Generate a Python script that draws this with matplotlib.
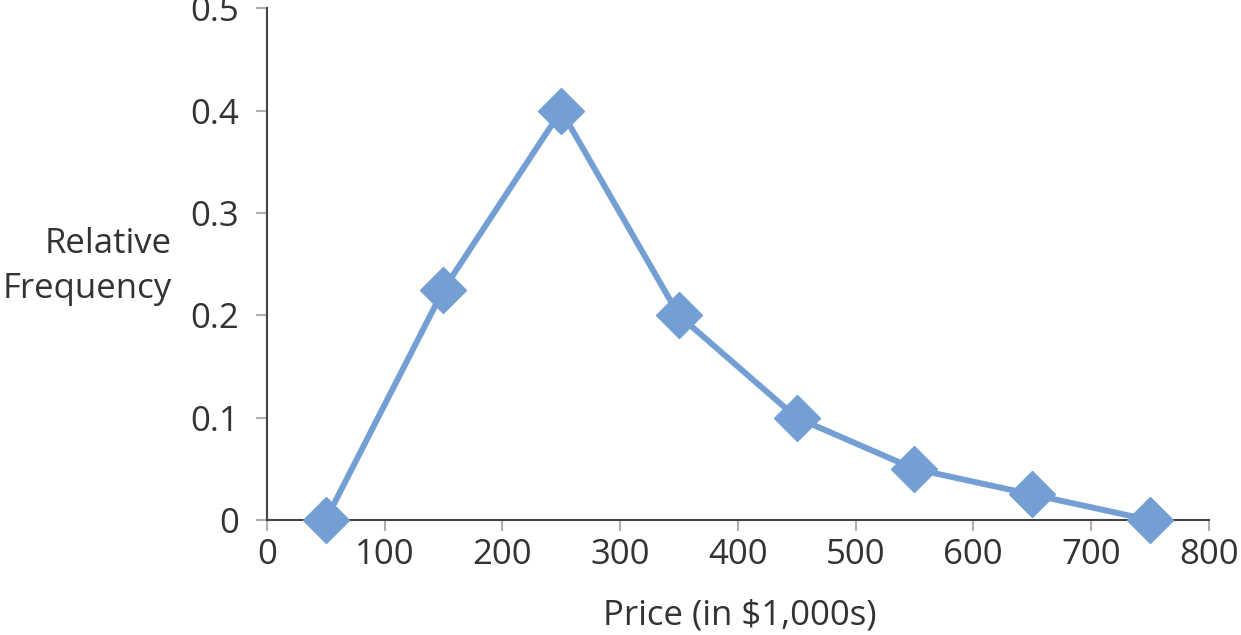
import matplotlib.pyplot as plt

price = [50, 150, 250, 350, 450, 550, 650, 750]
rel_freq = [0, 0.225, 0.4, 0.2, 0.1, 0.05, 0.025, 0]
x_ticks = [0, 100, 200, 300, 400, 500, 600, 700, 800]
y_ticks = [0, 0.1, 0.2, 0.3, 0.4, 0.5]
y_tick_labels = ['0', '0.1', '0.2', '0.3', '0.4', '0.5']

plt.rcParams['font.family'] = ['Open Sans', 'DejaVu Sans']
text_color = '#333333'

fig = plt.figure(figsize=(12.41, 6.35), dpi=100)
ax = fig.add_axes([0.215, 0.181, 0.759, 0.806])

ax.plot(price, rel_freq, color='#749fd4', linewidth=4.3, marker='D',
        markersize=23, clip_on=False, zorder=3)

ax.set_xlim(0, 800)
ax.set_ylim(0, 0.5)
ax.set_xticks(x_ticks)
ax.set_yticks(y_ticks)
ax.set_yticklabels(y_tick_labels)

for side in ['top', 'right']:
    ax.spines[side].set_visible(False)
for side in ['left', 'bottom']:
    ax.spines[side].set_color('#444444')
    ax.spines[side].set_linewidth(1.5)

ax.tick_params(axis='both', colors='#b0b0b0', length=8, width=1.5,
               labelsize=25, labelcolor=text_color)
ax.tick_params(axis='y', pad=12)
ax.tick_params(axis='x', pad=5)

ax.set_xlabel('Price (in $1,000s)', fontsize=25, color=text_color)
ax.xaxis.set_label_coords(0.502, -0.186)
ax.xaxis.label.set_va('center')
ax.set_ylabel('Relative\nFrequency', fontsize=25, color=text_color,
              rotation=0, ha='right', va='center', multialignment='right',
              linespacing=1.42)
ax.yaxis.set_label_coords(-0.101, 0.496)

fig.savefig('out.png', dpi=100)
